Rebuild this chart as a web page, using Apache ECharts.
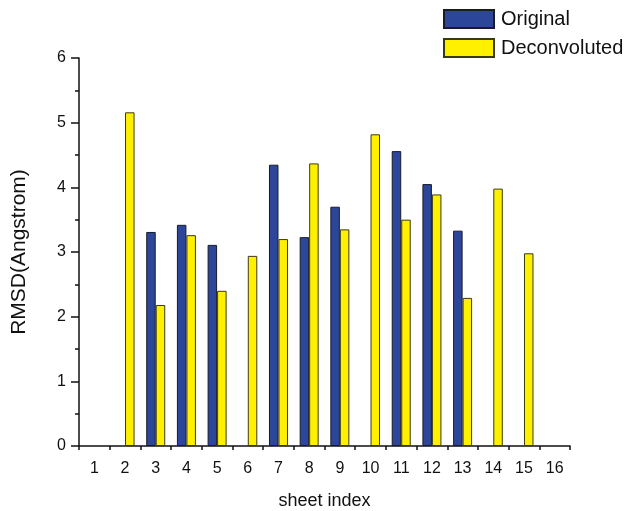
<!DOCTYPE html>
<html>
<head>
<meta charset="utf-8">
<script src="https://cdn.jsdelivr.net/npm/echarts@6/dist/echarts.min.js"></script>
<style>html,body{margin:0;padding:0;background:#fff;}#c{width:636px;height:511px;}</style>
</head>
<body>
<div id="c"></div>
<script>
const categories = ['1','2','3','4','5','6','7','8','9','10','11','12','13','14','15','16'];
const original = [null, null, 3.31, 3.42, 3.11, null, 4.35, 3.23, 3.70, null, 4.56, 4.05, 3.33, null, null, null];
const deconvoluted = [null, 5.16, 2.18, 3.26, 2.40, 2.94, 3.20, 4.37, 3.35, 4.82, 3.50, 3.89, 2.29, 3.98, 2.98, null];
const yTicks = [0, 1, 2, 3, 4, 5, 6];

const font = 'Liberation Sans, Arial, sans-serif';
const chart = echarts.init(document.getElementById('c'), null, {renderer: 'canvas'});
chart.setOption({
  animation: false,
  backgroundColor: '#fff',
  legend: {
    orient: 'vertical',
    left: 443,
    top: 9,
    itemWidth: 50,
    itemHeight: 18,
    itemGap: 9,
    icon: 'rect',
    textStyle: {fontFamily: font, fontSize: 20, color: '#111', padding: [0, 0, 0, 2]},
    padding: 0,
    data: ['Original', 'Deconvoluted']
  },
  grid: {left: 79, right: 66, top: 58, bottom: 65, containLabel: false, outerBoundsMode: 'none'},
  xAxis: [{
    type: 'category',
    data: categories,
    name: 'sheet index',
    nameLocation: 'middle',
    nameGap: 46,
    nameTextStyle: {fontFamily: font, fontSize: 18, color: '#111'},
    axisLine: {lineStyle: {color: '#111', width: 1.5}},
    axisTick: {alignWithLabel: true, length: 6, lineStyle: {color: '#111', width: 1.5}},
    axisLabel: {fontFamily: font, fontSize: 16, color: '#111', margin: 15},
    splitLine: {show: false}
  }, {
    type: 'category',
    data: categories,
    position: 'bottom',
    axisLine: {show: false},
    axisTick: {show: true, inside: false, length: 4, lineStyle: {color: '#111', width: 1.5}},
    axisLabel: {show: false},
    splitLine: {show: false}
  }],
  yAxis: {
    type: 'value',
    min: yTicks[0],
    max: yTicks[yTicks.length - 1],
    interval: 1,
    name: 'RMSD(Angstrom)',
    nameLocation: 'middle',
    nameGap: 49,
    nameTextStyle: {fontFamily: font, fontSize: 21, color: '#111'},
    axisLine: {show: true, lineStyle: {color: '#111', width: 1.5}},
    axisTick: {show: true, length: 8, lineStyle: {color: '#111', width: 1.5}},
    minorTick: {show: true, splitNumber: 2, length: 4, lineStyle: {color: '#111', width: 1.5}},
    axisLabel: {fontFamily: font, fontSize: 16, color: '#111', margin: 13},
    splitLine: {show: false}
  },
  series: [{
    name: 'Original',
    type: 'bar',
    data: original,
    barWidth: 9.5,
    barGap: '0%',
    itemStyle: {color: '#2c4699', borderColor: '#1a1a2a', borderWidth: 1}
  }, {
    name: 'Deconvoluted',
    type: 'bar',
    data: deconvoluted,
    barWidth: 9.5,
    barGap: '0%',
    itemStyle: {color: '#fff000', borderColor: '#3a3a10', borderWidth: 1}
  }]
});
</script>
</body>
</html>
